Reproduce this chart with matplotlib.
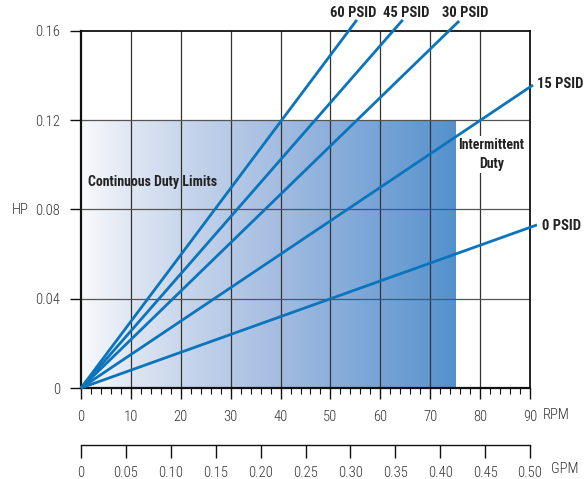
import numpy as np
import matplotlib
matplotlib.use("Agg")
import matplotlib.pyplot as plt
from matplotlib import font_manager as fm
from matplotlib.colors import LinearSegmentedColormap

names = {f.name for f in fm.fontManager.ttflist}
FONT = 'Roboto Condensed' if 'Roboto Condensed' in names else 'DejaVu Sans'
plt.rcParams['font.family'] = [FONT, 'DejaVu Sans']

# ---- data ----
psid_labels = ['60 PSID', '45 PSID', '30 PSID', '15 PSID', '0 PSID']
rpm_end = [55.3, 64.5, 75.8, 90.6, 91.4]
hp_end = [0.165, 0.165, 0.1645, 0.1358, 0.0731]
rpm_ticks = [0, 10, 20, 30, 40, 50, 60, 70, 80, 90]
hp_ticks = [0, 0.04, 0.08, 0.12, 0.16]
hp_tick_labels = ['0', '0.04', '0.08', '0.12', '0.16']
gpm_ticks = [0, 0.05, 0.10, 0.15, 0.20, 0.25, 0.30, 0.35, 0.40, 0.45, 0.50]
gpm_tick_labels = ['0', '0.05', '0.10', '0.15', '0.20', '0.25', '0.30', '0.35', '0.40', '0.45', '0.50']
cont_rpm_limit = 75
cont_hp_limit = 0.12

W, H = 587, 479
fig = plt.figure(figsize=(W/100, H/100), dpi=100)
L, R, T, B = 81, 530, 31, 388
ax = fig.add_axes([L/W, 1-B/H, (R-L)/W, (B-T)/H])
ax.set_xlim(0, 90)
ax.set_ylim(0, 0.16)

# gradient shading
stops = [0, 10/75, 20/75, 30/75, 40/75, 50/75, 60/75, 70/75, 1]
cols = ['#f8f9fc', '#dfe6f3', '#c9d7ec', '#b6c9e6', '#a3bce0', '#8cafdb',
        '#76a3d6', '#6198d0', '#5491cc']
cmap = LinearSegmentedColormap.from_list('g', list(zip(stops, cols)))
grad = np.linspace(0, 1, 512).reshape(1, -1)
ax.imshow(grad, extent=[0, cont_rpm_limit, 0, cont_hp_limit], aspect='auto',
          cmap=cmap, zorder=0, interpolation='bicubic')

# grid
for xv in rpm_ticks[1:-1]:
    ax.axvline(xv, color='#333333', lw=0.9, zorder=1)
for yv in hp_ticks[1:-1]:
    ax.axhline(yv, color='#555555', lw=0.9, zorder=1)

ax.text(1.5, 0.0925, 'Continuous Duty Limits', ha='left', va='center',
        fontsize=10, fontweight='bold', color='#222222', zorder=2)
ax.text(82.3, 0.1045, 'Intermittent\nDuty', ha='center', va='center', fontsize=10,
        fontweight='bold', color='#222222', linespacing=1.45, zorder=2,
        bbox=dict(facecolor='white', edgecolor='none', pad=1.5))

# lines
for lab, xe, ye in zip(psid_labels, rpm_end, hp_end):
    ax.plot([0, xe], [0, ye], color='#0a74bc', lw=2.0, clip_on=False, zorder=3,
            solid_capstyle='butt')

# PSID labels
lab_pos = {'60 PSID': (353, 13), '45 PSID': (406, 13), '30 PSID': (465, 13),
           '15 PSID': (560, 84), '0 PSID': (561, 226)}
for lab in psid_labels:
    px, py = lab_pos[lab]
    fig.text(px/W, 1-py/H, lab, ha='center', va='center', fontsize=10.5,
             fontweight='bold', color='#222222')

for s in ax.spines.values():
    s.set_color('#111111')
    s.set_linewidth(1.6)
ax.spines['top'].set_linewidth(1.3)
ax.spines['right'].set_linewidth(1.3)

ax.set_xticks(rpm_ticks)
ax.set_xticklabels([str(v) for v in rpm_ticks])
ax.set_xticks(np.arange(0, 91, 2), minor=True)
ax.set_yticks(hp_ticks)
ax.set_yticklabels(hp_tick_labels)
ax.tick_params(axis='x', which='major', length=8, width=1.0, direction='out',
               labelsize=10.5, colors='#111111', labelcolor='#333333', pad=8)
ax.tick_params(axis='x', which='minor', length=4, width=0.8, direction='out', colors='#111111')
ax.tick_params(axis='y', length=8, width=1.0, direction='out', labelsize=10.5,
               colors='#111111', labelcolor='#333333', pad=7)
for t in ax.get_xticklabels() + ax.get_yticklabels():
    t.set_fontweight('light')

fig.text(543/W, 1-415/H, 'RPM', ha='left', va='center', fontsize=10.5,
         color='#333333', fontweight='light')
fig.text(20/W, 1-210/H, 'HP', ha='center', va='center', fontsize=10.5,
         color='#333333', fontweight='light')

# GPM axis
ax2 = fig.add_axes([L/W, 1-445/H, (R-L)/W, 0.0001])
ax2.set_xlim(0, 0.5)
ax2.set_ylim(0, 1)
for k in ['top', 'left', 'right']:
    ax2.spines[k].set_visible(False)
ax2.spines['bottom'].set_color('#111111')
ax2.spines['bottom'].set_linewidth(1.0)
ax2.patch.set_visible(False)
ax2.set_yticks([])
ax2.set_xticks(gpm_ticks)
ax2.set_xticklabels(gpm_tick_labels)
ax2.tick_params(axis='x', length=9, width=1.0, direction='out', labelsize=10.5,
                colors='#111111', labelcolor='#333333', pad=6)
for t in ax2.get_xticklabels():
    t.set_fontweight('light')
fig.text(551/W, 1-469/H, 'GPM', ha='left', va='center', fontsize=10.5,
         color='#333333', fontweight='light')

fig.savefig('out.png', dpi=100)
